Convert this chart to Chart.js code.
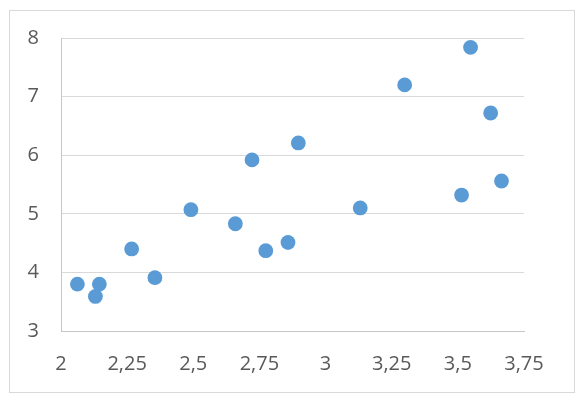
<!DOCTYPE html>
<html>
<head>
<meta charset="utf-8">
<script src="https://cdn.jsdelivr.net/npm/chart.js@4/dist/chart.umd.min.js"></script>
<style>
    html, body { margin: 0; padding: 0; background: #ffffff; }
    #wrap { position: relative; width: 585px; height: 403px; }
    #frame {
        position: absolute; left: 9px; top: 10px; width: 566px; height: 383px;
        box-sizing: border-box; border: 1px solid #d9d9d9;
    }
    #chart { position: absolute; left: 0; top: 0; }
</style>
</head>
<body>
<div id="wrap">
    <div id="frame"></div>
    <canvas id="chart" width="585" height="403"></canvas>
</div>
<script>
(function () {
    'use strict';

    // values
    var xValues = [2.062, 2.130, 2.145, 2.267, 2.355, 2.491, 2.659, 2.722, 2.774, 2.858,
                   2.897, 3.131, 3.299, 3.514, 3.548, 3.624, 3.665];
    var yValues = [3.80, 3.59, 3.80, 4.40, 3.91, 5.07, 4.83, 5.92, 4.37, 4.51,
                   6.21, 5.10, 7.20, 5.32, 7.84, 6.72, 5.56];
    var xTickLabels = ['2', '2,25', '2,5', '2,75', '3', '3,25', '3,5', '3,75'];
    var yTickLabels = ['3', '4', '5', '6', '7', '8'];

    function init() {
        if (typeof Chart === 'undefined') return;

        var points = xValues.map(function (x, i) { return { x: x, y: yValues[i] }; });
        var tickFont = { family: '"Open Sans", sans-serif', size: 20 };

        new Chart(document.getElementById('chart'), {
            type: 'scatter',
            data: {
                datasets: [{
                    data: points,
                    backgroundColor: '#5b9bd5',
                    borderColor: '#5b9bd5',
                    borderWidth: 0,
                    pointRadius: 7.4,
                    pointHoverRadius: 7.4,
                }],
            },
            options: {
                responsive: false,
                animation: false,
                layout: { padding: { left: 0, top: 38, right: 61, bottom: 0 } },
                plugins: {
                    legend: { display: false },
                    tooltip: { enabled: false },
                },
                scales: {
                    x: {
                        type: 'linear',
                        min: 2, max: 3.75,
                        afterFit: function (scale) { scale.height = 72; },
                        ticks: {
                            stepSize: 0.25,
                            color: '#595959',
                            font: tickFont,
                            padding: 21,
                            maxRotation: 0,
                            callback: function (v, i) { return xTickLabels[i]; },
                        },
                        grid: { display: false, drawTicks: false },
                        border: { display: true, color: '#c6c6c6', width: 1 },
                    },
                    y: {
                        type: 'linear',
                        min: 3, max: 8,
                        afterFit: function (scale) { scale.width = 61; },
                        ticks: {
                            stepSize: 1,
                            color: '#595959',
                            font: tickFont,
                            padding: 22,
                            callback: function (v, i) { return yTickLabels[i]; },
                        },
                        grid: { color: '#d9d9d9', lineWidth: 1, drawTicks: false },
                        border: { display: true, color: '#c6c6c6', width: 1 },
                    },
                },
            },
        });
    }

    if (document.readyState === 'loading') {
        document.addEventListener('DOMContentLoaded', init);
    } else {
        init();
    }
})();
</script>
</body>
</html>
